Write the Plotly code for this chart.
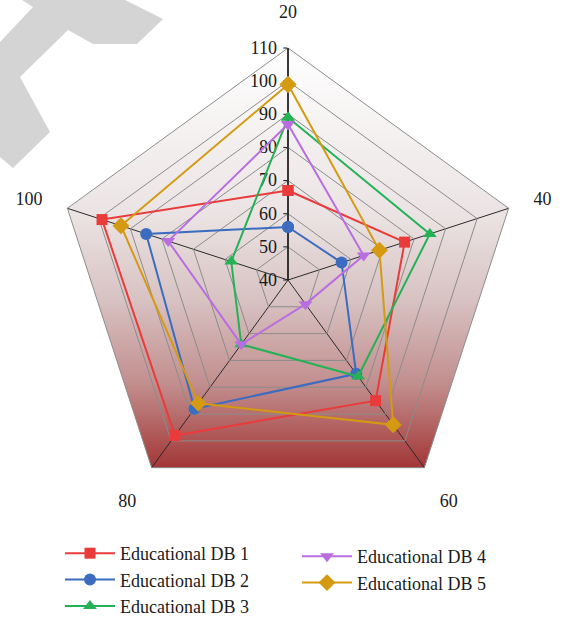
import base64
import math
import plotly.graph_objects as go

# ---- data -------------------------------------------------------------
categories = ["20", "40", "60", "80", "100"]
db1 = [67, 77, 85, 98, 99]
db2 = [56, 57, 75, 88, 85]
db3 = [89, 85, 76, 64, 58]
db4 = [87, 64, 49, 64, 78]
db5 = [99, 69, 94, 86, 93]
radial_ticks = [40, 50, 60, 70, 80, 90, 100, 110]
series_names = ["Educational DB 1", "Educational DB 2", "Educational DB 3",
                "Educational DB 4", "Educational DB 5"]

# ---- page geometry (pixels) ------------------------------------------
W, H = 569, 618
CX, CY, R = 288, 280, 232
FONT = "Liberation Serif"

dom_x = [(CX - R) / W, (CX + R) / W]
dom_y = [1 - (CY + R) / H, 1 - (CY - R) / H]

styles = [
    dict(color="#ea3b3b", symbol="square", size=11, legend="legend"),
    dict(color="#3b6cc0", symbol="circle", size=12, legend="legend"),
    dict(color="#25b257", symbol="triangle-up", size=12, legend="legend"),
    dict(color="#b96ee0", symbol="triangle-down", size=12, legend="legend2"),
    dict(color="#d39a12", symbol="diamond", size=13, legend="legend2"),
]
values = [db1, db2, db3, db4, db5]

fig = go.Figure()
for name, vals, st in zip(series_names, values, styles):
    fig.add_trace(go.Scatterpolar(
        r=vals + vals[:1],
        theta=categories + categories[:1],
        mode="lines+markers",
        name=name,
        line=dict(color=st["color"], width=2),
        marker=dict(symbol=st["symbol"], size=st["size"], color=st["color"]),
        legend=st["legend"],
    ))

# ---- gradient-filled pentagon behind the grid -------------------------
S = 2 * R
pts = []
for k in range(5):
    a = math.radians(90 - 72 * k)
    pts.append(f"{R + R * math.cos(a):.2f},{R - R * math.sin(a):.2f}")
bottom = R + R * math.sin(math.radians(54))
svg = f"""<svg xmlns='http://www.w3.org/2000/svg' width='{S}' height='{S}' viewBox='0 0 {S} {S}'>
<defs><linearGradient id='g' gradientUnits='userSpaceOnUse' x1='0' y1='0' x2='0' y2='{bottom:.2f}'>
<stop offset='0' stop-color='#ffffff'/>
<stop offset='0.40' stop-color='#ebe3e3'/>
<stop offset='0.60' stop-color='#d8c2c2'/>
<stop offset='0.80' stop-color='#c28e8e'/>
<stop offset='1' stop-color='#a33636'/>
</linearGradient></defs>
<polygon points='{" ".join(pts)}' fill='url(#g)'/>
</svg>"""
src = "data:image/svg+xml;base64," + base64.b64encode(svg.encode()).decode()

fig.add_layout_image(dict(
    source=src, xref="paper", yref="paper",
    x=dom_x[0], y=dom_y[1], sizex=dom_x[1] - dom_x[0], sizey=dom_y[1] - dom_y[0],
    xanchor="left", yanchor="top", sizing="stretch", layer="below",
))

# ---- light grey watermark band in the top-left corner -----------------
wm = [(22, 0), (125, 0), (163, 19), (137, 44), (93, 44), (68, 30), (20, 77),
      (50, 132), (13, 168), (0, 157), (0, 42), (33, 7)]
path = "M " + " L ".join(f"{x / W:.4f},{1 - y / H:.4f}" for x, y in wm) + " Z"
fig.add_shape(type="path", path=path, xref="paper", yref="paper",
              fillcolor="#d4d4d4", line=dict(width=0), layer="below")

fig.update_layout(
    width=W, height=H,
    margin=dict(l=0, r=0, t=0, b=0, autoexpand=False),
    paper_bgcolor="white",
    font=dict(family=FONT, size=18, color="#1a1a1a"),
    polar=dict(
        domain=dict(x=dom_x, y=dom_y),
        bgcolor="rgba(0,0,0,0)",
        gridshape="linear",
        radialaxis=dict(
            range=[40, 110], tickvals=radial_ticks, angle=90, tickangle=90,
            side="counterclockwise", showline=True, linecolor="#1a1a1a",
            linewidth=1.5, gridcolor="#8c8c8c", gridwidth=1,
            ticks="outside", ticklen=4, tickcolor="#1a1a1a",
            tickfont=dict(size=18), layer="below traces",
        ),
        angularaxis=dict(
            type="category", categoryarray=categories,
            direction="clockwise", rotation=90,
            showline=True, linecolor="#8c8c8c", linewidth=1,
            gridcolor="#2a2a2a", gridwidth=1.2,
            ticks="outside", ticklen=22, tickcolor="rgba(0,0,0,0)",
            tickfont=dict(size=18), layer="below traces",
        ),
    ),
    legend=dict(
        x=60 / W, y=1 - 535 / H, xanchor="left", yanchor="top",
        orientation="v", bgcolor="rgba(0,0,0,0)", itemwidth=50,
        font=dict(family=FONT, size=18, color="#1a1a1a"), tracegroupgap=0,
    ),
    legend2=dict(
        x=297 / W, y=1 - 538 / H, xanchor="left", yanchor="top",
        orientation="v", bgcolor="rgba(0,0,0,0)", itemwidth=50,
        font=dict(family=FONT, size=18, color="#1a1a1a"), tracegroupgap=0,
    ),
    showlegend=True,
)

fig.write_html("out.html")
